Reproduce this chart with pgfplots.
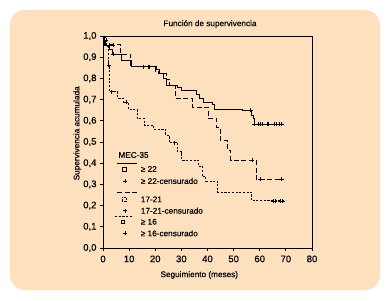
\documentclass[border=0pt]{standalone}
\usepackage{pgfplots}
\pgfplotsset{compat=1.18}
\usepackage{fontspec}
\setmainfont{Liberation Sans}[FakeBold=0.35]
\definecolor{peach}{RGB}{253,224,190}
\begin{document}
\begin{tikzpicture}[font=\fontsize{8.2}{10}\selectfont]
\fill[white] (-103pt,-52pt) rectangle (288pt,248pt);
\fill[peach, rounded corners=15pt] (-93pt,-42pt) rectangle (277pt,238pt);
\begin{axis}[at={(0pt,0pt)}, anchor=south west, scale only axis,
  width=209pt, height=212pt,
  xmin=0, xmax=80, ymin=0, ymax=1,
  xtick={0,10,20,30,40,50,60,70,80},
  ytick={0,0.1,0.2,0.3,0.4,0.5,0.6,0.7,0.8,0.9,1.0},
  tick align=outside, tick pos=left,
  major tick length=3pt,
  axis line style={line width=0.9pt},
  every tick/.style={black, line width=0.8pt},
  /pgf/number format/assume math mode=true,
  tick label style={font=\fontsize{9.5}{10}\selectfont},
  yticklabel style={/pgf/number format/.cd, fixed, fixed zerofill, precision=1, use comma},
  xticklabel style={yshift=-1pt},
  clip=false,
]
% >= 22 solid
\addplot[black, line width=0.9pt, const plot] coordinates {
(0,1) (0.5,0.955) (2.5,0.935) (3.5,0.914) (7.1,0.887) (10.7,0.855) (20.4,0.84) (21.7,0.825) (23,0.80) (24.4,0.769) (28.5,0.755) (30,0.741) (35.6,0.725) (36.9,0.706) (38.4,0.686) (42,0.675) (42.5,0.654) (53.5,0.65) (56.9,0.623) (57.6,0.61) (57.9,0.583) (68.8,0.583)};
\addplot[black, only marks, mark=+, mark size=2pt, mark options={line width=0.8pt}] coordinates {
(3.8,0.914) (15.6,0.855) (17.2,0.855) (17.9,0.855) (56.5,0.65) (57.9,0.583) (59.5,0.583) (60.4,0.583) (61.1,0.583) (62.9,0.583) (63.4,0.583) (65.6,0.583) (66.5,0.583) (67.4,0.583) (68.4,0.583)};
% 17-21 dashed
\addplot[black, line width=0.9pt, const plot, dash pattern=on 5pt off 2.5pt] coordinates {
(0,1) (1,0.958) (6.8,0.914) (10.6,0.855) (20,0.835) (21.3,0.821) (24.1,0.796) (25.4,0.769) (27.6,0.706) (34.2,0.664) (40.3,0.612) (43.5,0.569) (44.8,0.509) (47.6,0.462) (48.9,0.415) (58.6,0.324) (68.8,0.324)};
\addplot[black, only marks, mark=+, mark size=2pt, mark options={line width=0.8pt}] coordinates {
(2.5,0.958) (3.8,0.958) (57.2,0.415) (60.1,0.324) (68.4,0.324)};
% >= 16 dotted
\addplot[black, line width=0.9pt, const plot, dash pattern=on 2.2pt off 1.5pt] coordinates {
(0,1) (0.5,0.98) (1.5,0.95) (2.0,0.863) (2.5,0.737) (5.7,0.706) (7.7,0.687) (9.8,0.654) (13,0.612) (15.7,0.580) (19.5,0.560) (24,0.533) (25.3,0.497) (28.5,0.454) (30.1,0.415) (36.5,0.387) (38,0.336) (39.4,0.316) (43.9,0.264) (56.9,0.222) (70,0.222)};
\addplot[black, only marks, mark=+, mark size=2pt, mark options={line width=0.8pt}] coordinates {
(1.3,0.98) (2.2,0.863) (3.3,0.737) (8.9,0.687) (27.4,0.497) (65.2,0.222) (66,0.222) (67.8,0.222) (68.8,0.222)};
\end{axis}
% legend
\node[anchor=west, inner sep=0pt] at (15.3pt,93pt) {MEC-35};
\draw[black, line width=0.9pt] (14.3pt,84.7pt) -- (34.3pt,84.7pt);
\draw[black, line width=0.7pt] (19pt,77pt) rectangle (23pt,81pt);
\node[anchor=west, inner sep=0pt] at (37.7pt,79pt) {≥ 22};
\draw[black, line width=0.7pt] (20pt,67pt) -- (24pt,67pt) (22pt,65pt) -- (22pt,69pt);
\node[anchor=west, inner sep=0pt] at (37.7pt,67pt) {≥ 22-censurado};
\draw[black, line width=0.9pt, dash pattern=on 5pt off 2.5pt] (14.3pt,55.3pt) -- (34.3pt,55.3pt);
\draw[black, line width=0.7pt, dash pattern=on 2pt off 1pt] (19pt,46.7pt) rectangle (23pt,50.7pt);
\node[anchor=west, inner sep=0pt] at (37.7pt,48.7pt) {17-21};
\draw[black, line width=0.7pt] (20pt,37.3pt) -- (24pt,37.3pt) (22pt,35.3pt) -- (22pt,39.3pt);
\node[anchor=west, inner sep=0pt] at (37.7pt,37.3pt) {17-21-censurado};
\draw[black, line width=0.9pt, dash pattern=on 2.2pt off 1.5pt] (12pt,31.3pt) -- (30.3pt,31.3pt);
\draw[black, line width=0.7pt] (18.8pt,24.8pt) rectangle (21.8pt,27.8pt);
\node[anchor=west, inner sep=0pt] at (37.7pt,26.3pt) {≥ 16};
\draw[black, line width=0.7pt] (20pt,14.7pt) -- (24pt,14.7pt) (22pt,12.7pt) -- (22pt,16.7pt);
\node[anchor=west, inner sep=0pt] at (37.7pt,14.7pt) {≥ 16-censurado};
% title and labels
\node at (107pt,224pt) {Función de supervivencia};
\node at (96.3pt,-27pt) {Seguimiento (meses)};
\node[rotate=90] at (-25.7pt,114.7pt) {Supervivencia acumulada};
\end{tikzpicture}
\end{document}
